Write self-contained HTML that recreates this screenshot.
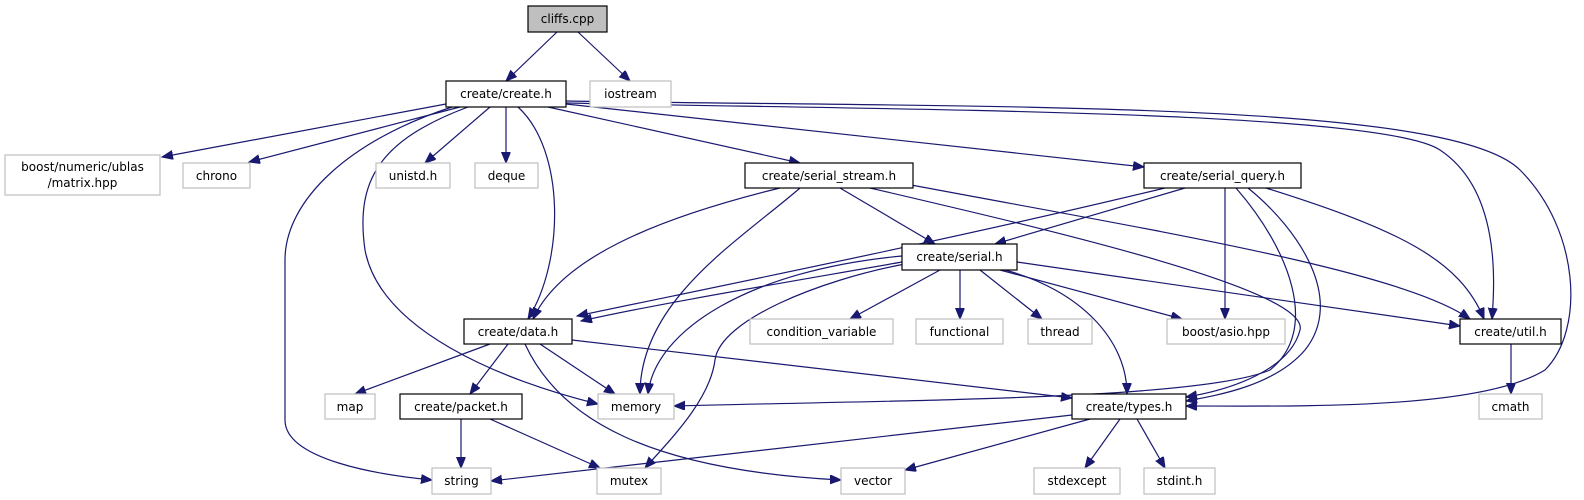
<!DOCTYPE html>
<html><head><meta charset="utf-8"><style>
html,body{margin:0;padding:0;background:#fff;}
svg{display:block;}
text{font-family:"DejaVu Sans","Liberation Sans",sans-serif;font-size:12px;fill:#000;}
.e{fill:none;stroke:#191970;stroke-width:1.2;}
.b{fill:#fff;stroke:#000;stroke-width:1.2;}
.g{fill:#fff;stroke:#bfbfbf;stroke-width:1.2;}
</style></head><body>
<svg width="1584" height="500" viewBox="0 0 1584 500" xmlns="http://www.w3.org/2000/svg">
<defs>
<marker id="a" markerUnits="userSpaceOnUse" markerWidth="12" markerHeight="10" refX="11" refY="4.5" orient="auto">
<path d="M0,0 L11,4.5 L0,9 Z" fill="#191970" stroke="#191970"/>
</marker>
</defs>
<g marker-end="url(#a)">
<path class="e" d="M557,32 L506,81"/>
<path class="e" d="M578,32 L630,81"/>
<path class="e" d="M446,104 L162,157"/>
<path class="e" d="M460,107 L249,162"/>
<path class="e" d="M452,107 C350,140 285,200 285,260 L285,420 C285,460 380,475 432,480"/>
<path class="e" d="M468,107 C380,140 355,180 365,250 C380,330 500,380 598,404"/>
<path class="e" d="M490,107 L425,163"/>
<path class="e" d="M506,107 L506,163"/>
<path class="e" d="M518,107 C565,150 565,260 528,319"/>
<path class="e" d="M548,107 L800,163"/>
<path class="e" d="M566,104 L1144,167"/>
<path class="e" d="M566,103 C900,110 1380,110 1440,150 C1500,190 1495,280 1492,319"/>
<path class="e" d="M566,101 C1000,108 1450,100 1520,170 C1580,230 1585,330 1545,370 C1480,410 1300,406 1186,406"/>
<path class="e" d="M780,188 C650,220 560,260 533,319"/>
<path class="e" d="M800,188 C740,240 640,300 640,394"/>
<path class="e" d="M840,188 L935,244"/>
<path class="e" d="M870,188 C1050,230 1310,290 1300,330 C1290,370 1230,390 1186,397"/>
<path class="e" d="M906,184 C1150,230 1400,270 1470,319"/>
<path class="e" d="M1165,188 C950,240 700,290 577,316"/>
<path class="e" d="M1185,188 L995,244"/>
<path class="e" d="M1225,188 L1225,319"/>
<path class="e" d="M1236,188 C1290,250 1320,330 1270,370 C1200,400 900,400 674,406"/>
<path class="e" d="M1248,188 C1300,230 1345,300 1305,350 C1275,385 1220,395 1186,401"/>
<path class="e" d="M1266,188 C1400,230 1460,260 1484,319"/>
<path class="e" d="M902,262 C800,280 650,305 581,321"/>
<path class="e" d="M902,256 C750,270 655,330 648,394"/>
<path class="e" d="M905,264 C820,280 720,320 715,360 C710,400 670,440 645,468"/>
<path class="e" d="M902,259 C760,270 670,300 600,330 C560,345 520,350 510,344" style="display:none"/>
<path class="e" d="M940,270 L850,319"/>
<path class="e" d="M960,270 L960,319"/>
<path class="e" d="M980,270 L1042,319"/>
<path class="e" d="M1000,270 L1182,319"/>
<path class="e" d="M1017,262 L1460,326"/>
<path class="e" d="M1005,270 C1080,290 1127,340 1127,394"/>
<path class="e" d="M490,344 L355,394"/>
<path class="e" d="M508,344 L470,394"/>
<path class="e" d="M540,344 L615,394"/>
<path class="e" d="M525,344 C560,420 650,470 841,480"/>
<path class="e" d="M572,340 L1072,398"/>
<path class="e" d="M461,419 L461,468"/>
<path class="e" d="M490,419 L600,468"/>
<path class="e" d="M1072,415 L491,481"/>
<path class="e" d="M1090,419 L905,470"/>
<path class="e" d="M1120,419 L1085,468"/>
<path class="e" d="M1137,419 L1165,468"/>
<path class="e" d="M1511,344 L1511,394"/>
</g>
<g text-anchor="middle">
<rect x="528" y="6" width="79" height="26" fill="#bfbfbf" stroke="#000" stroke-width="1.2"/><text x="567.5" y="23">cliffs.cpp</text>
<rect class="b" x="446" y="81" width="120" height="26"/><text x="506" y="98">create/create.h</text>
<rect class="g" x="590" y="81" width="81" height="26"/><text x="630.5" y="98">iostream</text>
<rect class="g" x="5" y="155" width="155" height="40"/><text x="82.5" y="171">boost/numeric/ublas</text><text x="82.5" y="187">/matrix.hpp</text>
<rect class="g" x="183" y="163" width="67" height="25"/><text x="216.5" y="180">chrono</text>
<rect class="g" x="376" y="163" width="74" height="25"/><text x="413" y="180">unistd.h</text>
<rect class="g" x="475" y="163" width="63" height="25"/><text x="506.5" y="180">deque</text>
<rect class="b" x="745" y="163" width="168" height="25"/><text x="829" y="180">create/serial_stream.h</text>
<rect class="b" x="1144" y="163" width="157" height="25"/><text x="1222.5" y="180">create/serial_query.h</text>
<rect class="b" x="902" y="244" width="115" height="26"/><text x="959.5" y="261">create/serial.h</text>
<rect class="b" x="464" y="319" width="108" height="25"/><text x="518" y="336">create/data.h</text>
<rect class="g" x="750" y="319" width="143" height="25"/><text x="821.5" y="336">condition_variable</text>
<rect class="g" x="916" y="319" width="87" height="25"/><text x="959.5" y="336">functional</text>
<rect class="g" x="1028" y="319" width="64" height="25"/><text x="1060" y="336">thread</text>
<rect class="g" x="1167" y="319" width="118" height="25"/><text x="1226" y="336">boost/asio.hpp</text>
<rect class="b" x="1460" y="319" width="101" height="25"/><text x="1510.5" y="336">create/util.h</text>
<rect class="g" x="325" y="394" width="50" height="25"/><text x="350" y="411">map</text>
<rect class="b" x="400" y="394" width="122" height="25"/><text x="461" y="411">create/packet.h</text>
<rect class="g" x="598" y="394" width="76" height="25"/><text x="636" y="411">memory</text>
<rect class="b" x="1072" y="394" width="114" height="25"/><text x="1129" y="411">create/types.h</text>
<rect class="g" x="1479" y="394" width="63" height="25"/><text x="1510.5" y="411">cmath</text>
<rect class="g" x="432" y="468" width="59" height="26"/><text x="461.5" y="485">string</text>
<rect class="g" x="597" y="468" width="64" height="26"/><text x="629" y="485">mutex</text>
<rect class="g" x="841" y="468" width="64" height="26"/><text x="873" y="485">vector</text>
<rect class="g" x="1034" y="468" width="86" height="26"/><text x="1077" y="485">stdexcept</text>
<rect class="g" x="1144" y="468" width="71" height="26"/><text x="1179.5" y="485">stdint.h</text>
</g>
</svg>
</body></html>
